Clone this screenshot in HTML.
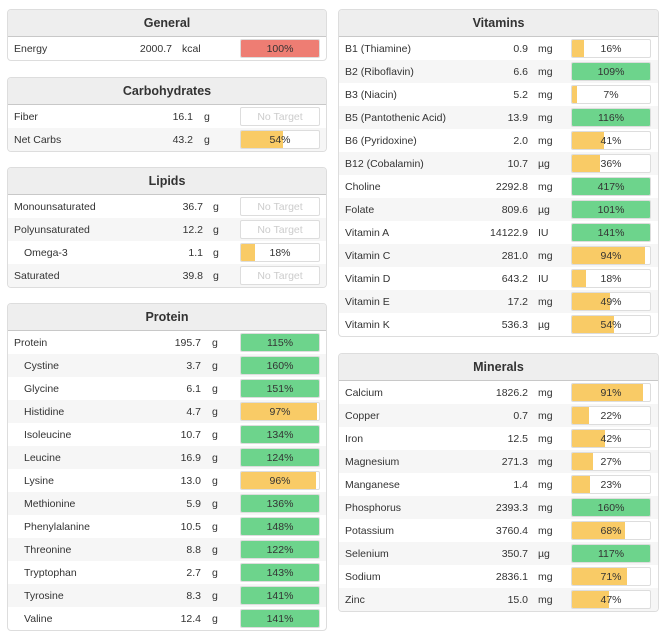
<!DOCTYPE html>
<html><head><meta charset="utf-8"><style>
body{margin:0;width:664px;height:637px;background:#fff;font-family:"Liberation Sans",sans-serif;font-size:10.5px;color:#333;position:relative;overflow:hidden}
.panel{position:absolute;border:1px solid #ddd;border-radius:4px;overflow:hidden;background:#fff}
.hdr{height:26px;background:#eee;border-bottom:1px solid #c8c8c8;text-align:center;font-weight:bold;font-size:12.5px;line-height:27px;color:#333}
.row{position:relative;height:23px}
.row:nth-child(even){background:#f6f6f6}
.nm{position:absolute;top:6px}
.val{position:absolute;top:6px;text-align:right;width:80px}
.unit{position:absolute;top:6px}
.bar{position:absolute;top:2px;width:78px;height:17px;border:1px solid #ddd;border-radius:2px;background:#fff;overflow:hidden}
.fill{position:absolute;left:0;top:0;bottom:0}
.pct{position:absolute;left:0;right:0;top:3px;text-align:center;color:#333}
.nt{color:#ccc}
</style></head><body>
<script>
const panels=[
 {t:"General",x:7,y:9,w:318,vr:172,ux:182,bx:240,
  names:["Energy"],vals:["2000.7"],units:["kcal"],pcts:[100],ind:[0],red:true},
 {t:"Carbohydrates",x:7,y:77,w:318,vr:193,ux:204,bx:240,
  names:["Fiber","Net Carbs"],vals:["16.1","43.2"],units:["g","g"],pcts:[null,54],ind:[0,0]},
 {t:"Lipids",x:7,y:167,w:318,vr:203,ux:213,bx:240,
  names:["Monounsaturated","Polyunsaturated","Omega-3","Saturated"],vals:["36.7","12.2","1.1","39.8"],units:["g","g","g","g"],pcts:[null,null,18,null],ind:[0,0,1,0]},
 {t:"Protein",x:7,y:303,w:318,vr:201,ux:212,bx:240,
  names:["Protein","Cystine","Glycine","Histidine","Isoleucine","Leucine","Lysine","Methionine","Phenylalanine","Threonine","Tryptophan","Tyrosine","Valine"],
  vals:["195.7","3.7","6.1","4.7","10.7","16.9","13.0","5.9","10.5","8.8","2.7","8.3","12.4"],
  units:["g","g","g","g","g","g","g","g","g","g","g","g","g"],
  pcts:[115,160,151,97,134,124,96,136,148,122,143,141,141],ind:[0,1,1,1,1,1,1,1,1,1,1,1,1]},
 {t:"Vitamins",x:338,y:9,w:319,vr:528,ux:538,bx:571,
  names:["B1 (Thiamine)","B2 (Riboflavin)","B3 (Niacin)","B5 (Pantothenic Acid)","B6 (Pyridoxine)","B12 (Cobalamin)","Choline","Folate","Vitamin A","Vitamin C","Vitamin D","Vitamin E","Vitamin K"],
  vals:["0.9","6.6","5.2","13.9","2.0","10.7","2292.8","809.6","14122.9","281.0","643.2","17.2","536.3"],
  units:["mg","mg","mg","mg","mg","µg","mg","µg","IU","mg","IU","mg","µg"],
  pcts:[16,109,7,116,41,36,417,101,141,94,18,49,54],ind:[0,0,0,0,0,0,0,0,0,0,0,0,0]},
 {t:"Minerals",x:338,y:353,w:319,vr:528,ux:538,bx:571,
  names:["Calcium","Copper","Iron","Magnesium","Manganese","Phosphorus","Potassium","Selenium","Sodium","Zinc"],
  vals:["1826.2","0.7","12.5","271.3","1.4","2393.3","3760.4","350.7","2836.1","15.0"],
  units:["mg","mg","mg","mg","mg","mg","mg","µg","mg","mg"],
  pcts:[91,22,42,27,23,160,68,117,71,47],ind:[0,0,0,0,0,0,0,0,0,0]}
];
panels.forEach(p=>{
  const d=document.createElement('div');d.className='panel';
  
  
  d.style.left=p.x+'px';d.style.top=p.y+'px';d.style.width=p.w+'px';
  const h=document.createElement('div');h.className='hdr';h.textContent=p.t;
  
  
  d.appendChild(h);
  const body=document.createElement('div');d.appendChild(body);
  p.names.forEach((n,i)=>{
    const r=document.createElement('div');r.className='row';
    
    
    const ox=p.x+1;
    const pc=p.pcts[i];
    let barHtml;
    if(pc===null){barHtml=`<div class="pct nt">No Target</div>`;}
    else{
      const col=p.red?'#ee7d73':(pc>=100?'#6dd48c':'#f9cb66');
      barHtml=`<div class="fill" style="width:${Math.min(pc,100)}%;background:${col}"></div><div class="pct">${pc}%</div>`;
    }
    r.innerHTML=`<span class="nm" style="left:${p.ind[i]?16:6}px">${n}</span>`+
      `<span class="val" style="left:${p.vr-80-ox}px">${p.vals[i]}</span>`+
      `<span class="unit" style="left:${p.ux-ox}px">${p.units[i]}</span>`+
      `<div class="bar" style="left:${p.bx-ox}px">${barHtml}</div>`;
    body.appendChild(r);
  });
  document.body.appendChild(d);
});
</script>
</body></html>
